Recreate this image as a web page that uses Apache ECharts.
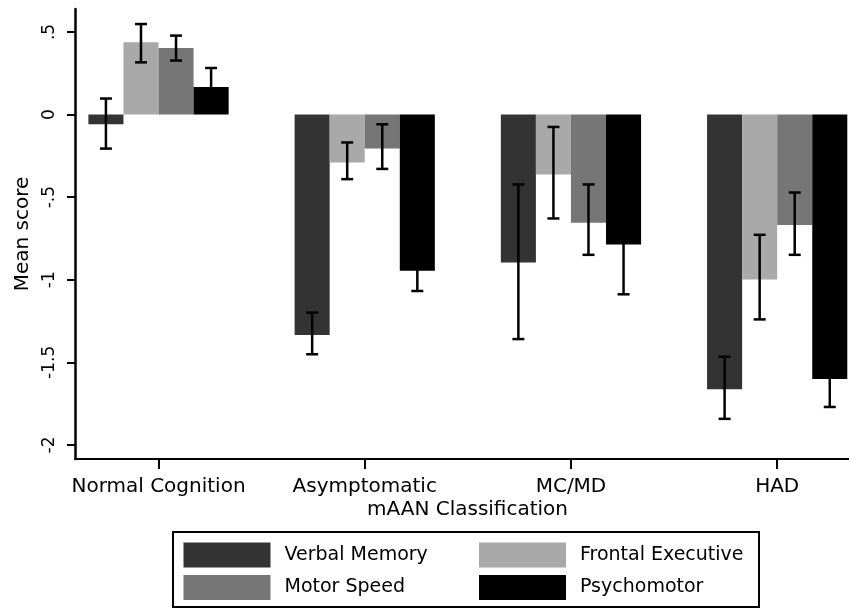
<!DOCTYPE html>
<html>
<head>
<meta charset="utf-8">
<script src="https://cdn.jsdelivr.net/npm/echarts@6/dist/echarts.min.js"></script>
<style>html,body{margin:0;padding:0;background:#fff}#c{width:849px;height:609px}</style>
</head>
<body>
<div id="c"></div>
<script>
var categories = ['Normal Cognition', 'Asymptomatic', 'MC/MD', 'HAD'];
var seriesNames = ['Verbal Memory', 'Frontal Executive', 'Motor Speed', 'Psychomotor'];
var verbalMemory = [-0.059, -1.334, -0.895, -1.663];
var verbalMemoryLo = [-0.206, -1.451, -1.359, -1.842];
var verbalMemoryHi = [0.097, -1.199, -0.423, -1.466];
var frontalExecutive = [0.437, -0.290, -0.363, -0.998];
var frontalExecutiveLo = [0.316, -0.391, -0.629, -1.240];
var frontalExecutiveHi = [0.548, -0.169, -0.075, -0.728];
var motorSpeed = [0.403, -0.206, -0.655, -0.668];
var motorSpeedLo = [0.327, -0.329, -0.849, -0.849];
var motorSpeedHi = [0.478, -0.059, -0.423, -0.472];
var psychomotor = [0.167, -0.945, -0.786, -1.600];
var psychomotorLo = [0.052, -1.068, -1.088, -1.770];
var psychomotorHi = [0.282, -0.822, -0.484, -1.430];
var yTicks = [-2, -1.5, -1, -0.5, 0, 0.5];

var means = [verbalMemory, frontalExecutive, motorSpeed, psychomotor];
var lows = [verbalMemoryLo, frontalExecutiveLo, motorSpeedLo, psychomotorLo];
var highs = [verbalMemoryHi, frontalExecutiveHi, motorSpeedHi, psychomotorHi];
var colors = ['#333333', '#a9a9a9', '#767676', '#000000'];
var FONT = 'DejaVu Sans';
var TEXT = '#000';
var YMIN = -2.085, YMAX = 0.639;
var CAT_GAP = 0.32;

function fmtTick(v) {
  if (v === 0) return '0';
  var s = String(v);
  return s.replace('0.', '.');
}

var series = [];
seriesNames.forEach(function (name, k) {
  series.push({
    name: name,
    type: 'bar',
    xAxisIndex: 0,
    yAxisIndex: 0,
    data: means[k],
    barGap: '0%',
    barCategoryGap: (CAT_GAP * 100) + '%',
    itemStyle: { color: colors[k] },
    emphasis: { disabled: true },
    z: 2
  });
});
seriesNames.forEach(function (name, k) {
  var d = categories.map(function (c, i) { return [i, lows[k][i], highs[k][i]]; });
  series.push({
    name: name + ' CI',
    type: 'custom',
    xAxisIndex: 0,
    yAxisIndex: 0,
    data: d,
    z: 5,
    silent: true,
    clip: false,
    renderItem: function (params, api) {
      var ci = api.value(0);
      var lo = api.coord([ci, api.value(1)]);
      var hi = api.coord([ci, api.value(2)]);
      var bandW = api.size([1, 0])[0];
      var barW = bandW * (1 - CAT_GAP) / 4;
      var x = lo[0] + (k - 1.5) * barW;
      var cap = 6;
      var st = { stroke: '#000', lineWidth: 2.5 };
      return {
        type: 'group',
        children: [
          { type: 'line', shape: { x1: x, y1: lo[1], x2: x, y2: hi[1] }, style: st },
          { type: 'line', shape: { x1: x - cap, y1: lo[1], x2: x + cap, y2: lo[1] }, style: st },
          { type: 'line', shape: { x1: x - cap, y1: hi[1], x2: x + cap, y2: hi[1] }, style: st }
        ]
      };
    }
  });
});

var legendCommon = {
  orient: 'vertical',
  top: 542.5,
  itemWidth: 87,
  itemHeight: 25,
  itemGap: 7.5,
  padding: 0,
  icon: 'rect',
  selectedMode: false,
  itemStyle: { borderWidth: 0 },
  textStyle: { fontFamily: FONT, fontSize: 19, color: TEXT, padding: [0, 0, 0, 9] }
};

var option = {
  animation: false,
  backgroundColor: '#fff',
  grid: [
    { left: 55.4, width: 824.9, top: 9, bottom: 150, containLabel: false, outerBoundsMode: 'none' },
    { left: 75, width: 785, top: 9, bottom: 150, containLabel: false, outerBoundsMode: 'none' }
  ],
  xAxis: [
    {
      type: 'category',
      gridIndex: 0,
      data: categories,
      boundaryGap: true,
      position: 'bottom',
      axisLine: { show: false, onZero: false },
      axisTick: { show: true, alignWithLabel: true, length: 10, lineStyle: { color: '#000', width: 2 } },
      axisLabel: { fontFamily: FONT, fontSize: 20, color: TEXT, margin: 18, interval: 0 },
      splitLine: { show: false }
    },
    {
      type: 'value',
      gridIndex: 1,
      min: 0,
      max: 1,
      position: 'bottom',
      axisLine: { show: true, onZero: false, lineStyle: { color: '#000', width: 2 } },
      axisTick: { show: false },
      axisLabel: { show: false },
      splitLine: { show: false },
      name: 'mAAN Classification',
      nameLocation: 'middle',
      nameGap: 41,
      nameTextStyle: { fontFamily: FONT, fontSize: 20, color: TEXT }
    }
  ],
  yAxis: [
    {
      type: 'value',
      gridIndex: 0,
      min: YMIN,
      max: YMAX,
      show: false
    },
    {
      type: 'value',
      gridIndex: 1,
      min: YMIN,
      max: YMAX,
      position: 'left',
      axisLine: { show: true, onZero: false, lineStyle: { color: '#000', width: 2.5 } },
      axisTick: { show: true, length: 8, customValues: yTicks, lineStyle: { color: '#000', width: 2 } },
      axisLabel: {
        rotate: 90,
        customValues: yTicks,
        fontFamily: FONT,
        fontSize: 17,
        color: TEXT,
        margin: 17,
        formatter: fmtTick
      },
      splitLine: { show: false },
      name: 'Mean score',
      nameLocation: 'middle',
      nameGap: 33,
      nameRotate: 90,
      nameTextStyle: { fontFamily: FONT, fontSize: 20, color: TEXT }
    }
  ],
  legend: [
    Object.assign({}, legendCommon, { left: 183.5, data: [seriesNames[0], seriesNames[2]] }),
    Object.assign({}, legendCommon, { left: 479, data: [seriesNames[1], seriesNames[3]] })
  ],
  graphic: [
    {
      type: 'rect',
      shape: { x: 173, y: 532, width: 586, height: 75 },
      style: { fill: 'none', stroke: '#000', lineWidth: 2 },
      z: 0,
      silent: true
    }
  ],
  series: series
};

var chart = echarts.init(document.getElementById('c'), null, { renderer: 'canvas' });
chart.setOption(option);
</script>
</body>
</html>
